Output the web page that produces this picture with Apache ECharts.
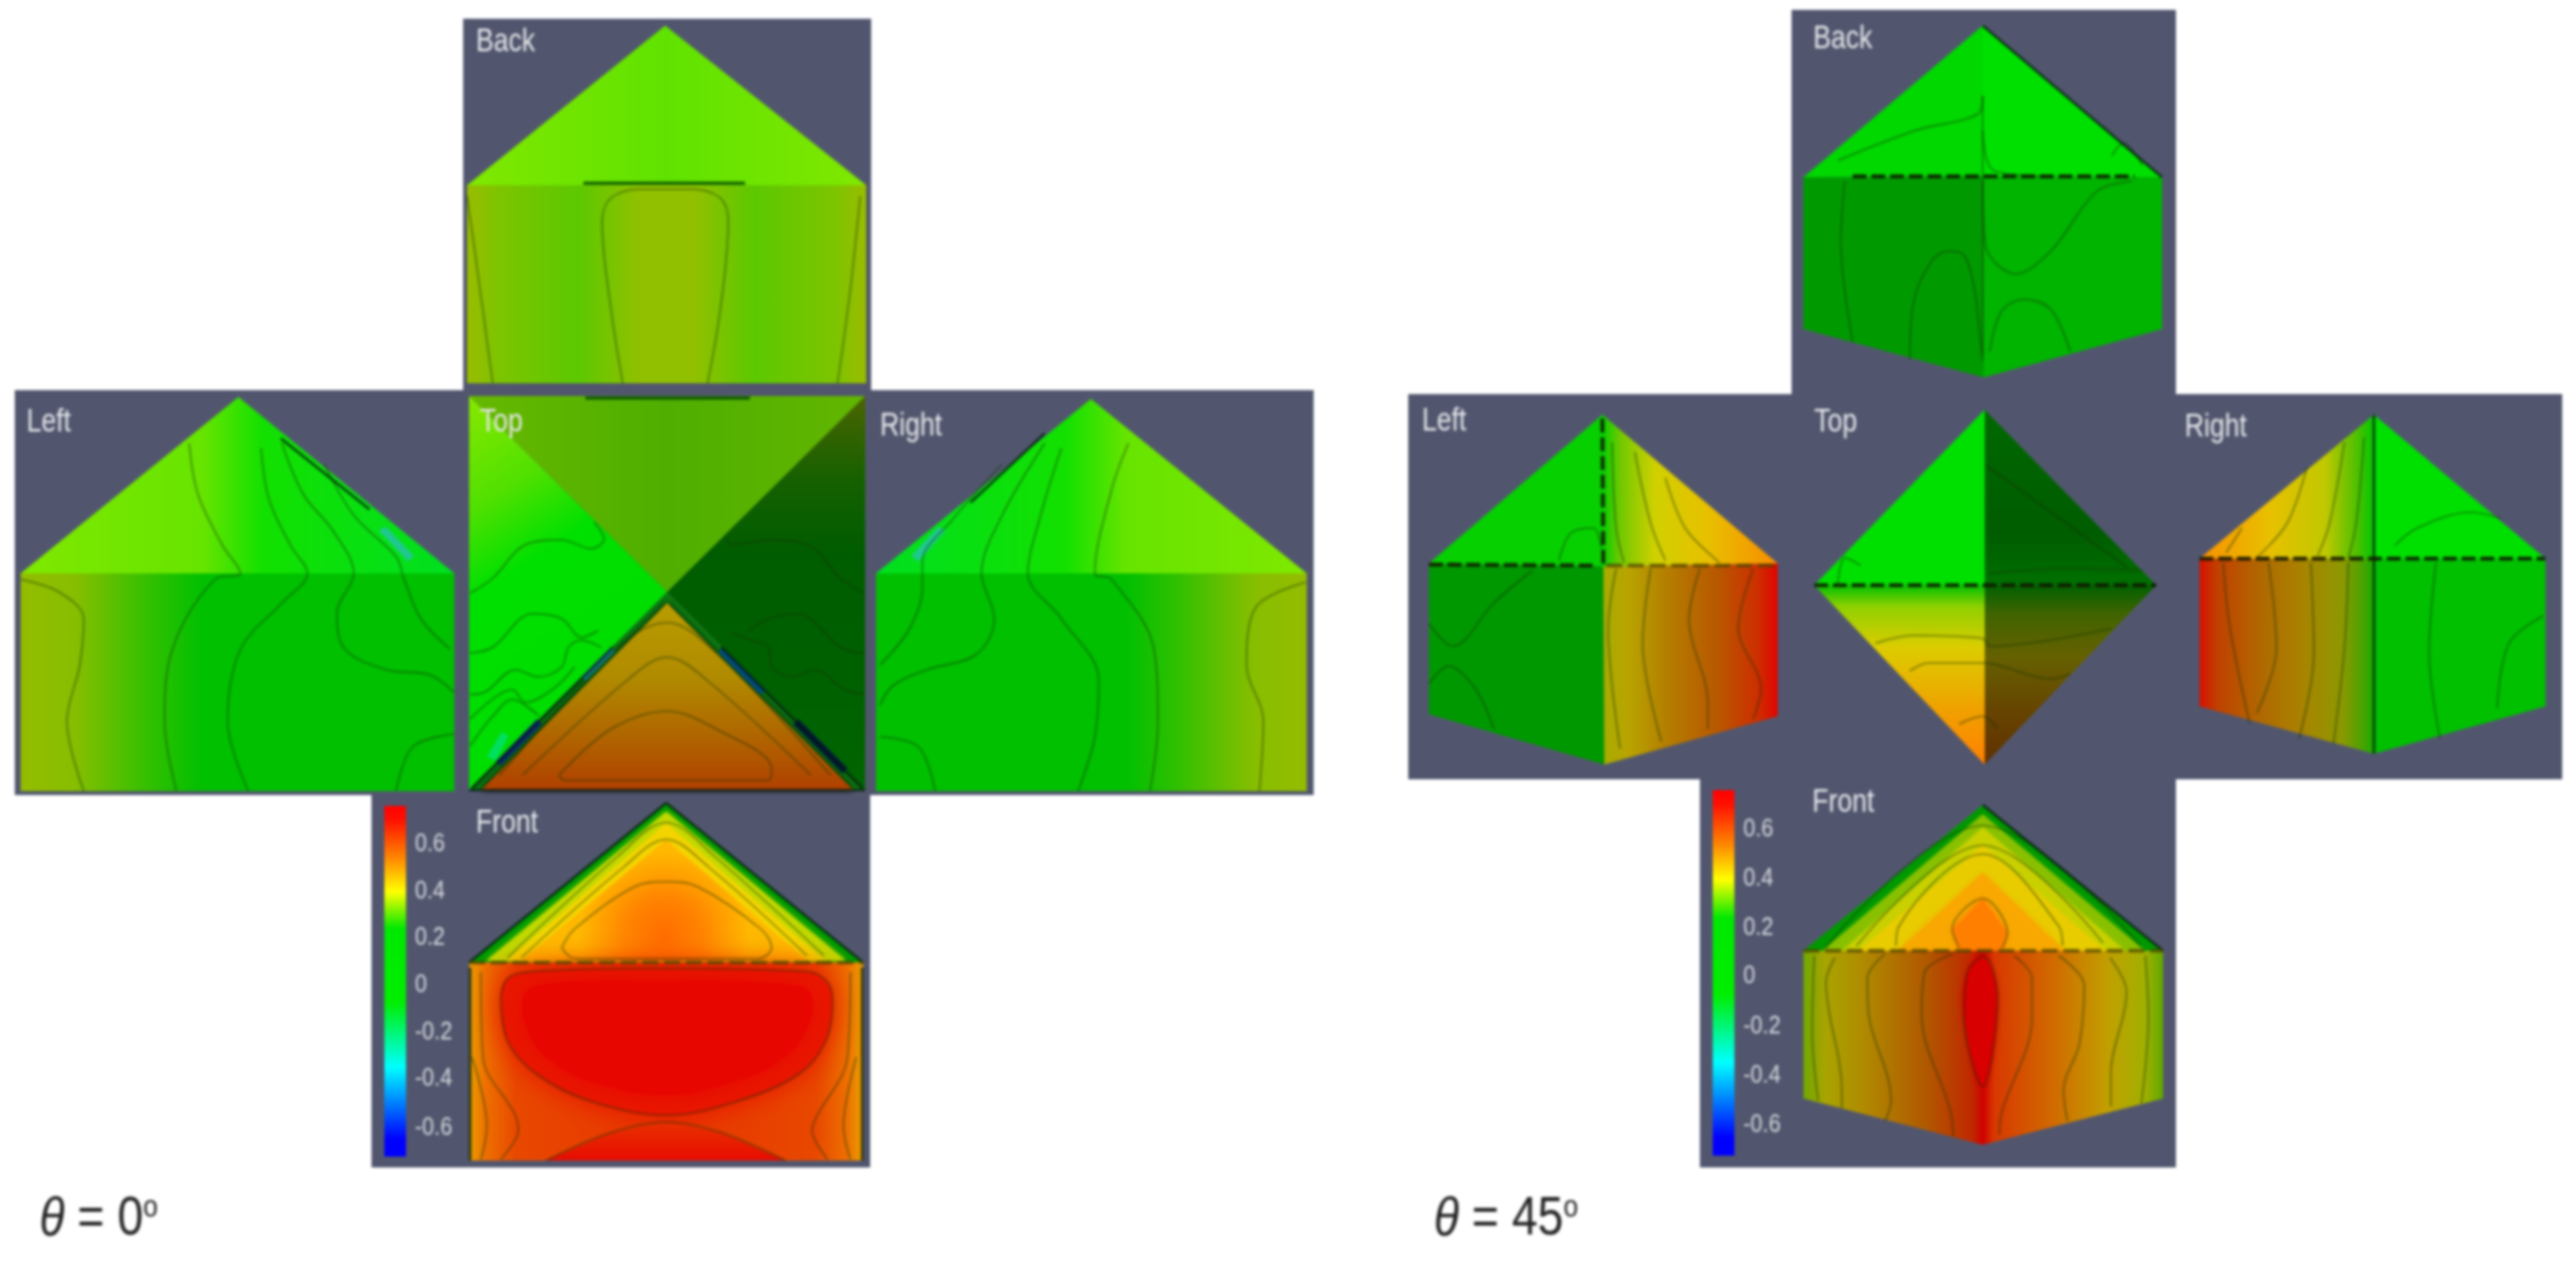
<!DOCTYPE html>
<html>
<head>
<meta charset="utf-8">
<title>Pressure on a gabled building</title>
<script src="https://cdn.jsdelivr.net/npm/echarts@6/dist/echarts.min.js"></script>
<style>
html, body { margin: 0; padding: 0; background: #fff; }
#chart { width: 2614px; height: 1283px; filter: blur(1.4px); }
</style>
</head>
<body>
<div id="chart"></div>
<script>

// grey panels behind the faces
var panels = [
    [[470, 19], [884, 19], [884, 396], [470, 396]],
    [[15, 396], [1333, 396], [1333, 807], [15, 807]],
    [[377, 805], [883, 805], [883, 1185], [377, 1185]],
    [[1818, 10], [2208, 10], [2208, 400], [1818, 400]],
    [[1429, 400], [2600, 400], [2600, 791], [1429, 791]],
    [[1725, 790], [2208, 790], [2208, 1185], [1725, 1185]]
];

// theta = 0, flat faces
var backRoof0 = [[675, 26], [879, 188], [474, 188]];
var backWall0 = [[474, 188], [879, 188], [879, 389], [474, 389]];
var leftRoof0 = [[242, 403], [461, 582], [21, 582]];
var leftWall0 = [[21, 582], [461, 582], [461, 803], [21, 803]];
var rightRoof0 = [[1107, 405], [1326, 582], [889, 582]];
var rightWall0 = [[889, 582], [1326, 582], [1326, 803], [889, 803]];
var topN0 = [[476, 402], [878, 402], [677, 601]];
var topW0 = [[476, 402], [677, 601], [476, 802]];
var topE0 = [[878, 402], [878, 802], [677, 601]];
var topS0 = [[677, 601], [878, 802], [476, 802]];
var topSInner0 = [[677, 612], [866, 802], [488, 802]];
var sliverA0 = [[620, 657], [590, 687], [594, 691], [624, 661]];
var sliverB0 = [[545, 730], [503, 773], [508, 777], [550, 735]];
var sliverC0 = [[733, 657], [777, 700], [772, 705], [729, 662]];
var sliverD0 = [[810, 730], [860, 780], [855, 785], [805, 735]];
var blob0 = [[509, 743], [516, 747], [503, 772], [494, 768]];
var blobL0 = [[384, 538], [392, 535], [420, 564], [414, 570]];
var blobR0 = [[960, 538], [952, 535], [925, 564], [932, 570]];
var frontRoofA0 = [[676, 815], [876, 977], [476, 977]];
var frontRoofB0 = [[676, 824], [858, 975], [494, 975]];
var frontRoofC0 = [[676, 836], [836, 975], [515, 975]];
var frontRoofD0 = [[676, 852], [819, 975], [529, 975]];
var frontWall0 = [[476, 977], [876, 977], [876, 1178], [476, 1178]];
var frontGlow0 = [[508, 1013], [515, 993], [540, 986], [661, 983], [819, 986], [840, 997], [845, 1017], [838, 1057], [811, 1090], [751, 1117], [676, 1132], [597, 1117], [544, 1090], [515, 1057]];
var frontCore0 = [[530, 1015], [545, 1000], [661, 995], [810, 1000], [825, 1015], [815, 1052], [790, 1078], [740, 1100], [676, 1112], [605, 1100], [560, 1078], [538, 1052]];
var frontLow0 = [[554, 1178], [619, 1150], [676, 1139], [733, 1150], [797, 1178]];

// theta = 45, folded faces
var backRoofL45 = [[2012, 26], [2012, 179], [1830, 180]];
var backRoofR45 = [[2012, 26], [2194, 180], [2012, 179]];
var backWallL45 = [[1830, 180], [2012, 179], [2013, 383], [1830, 334]];
var backWallR45 = [[2012, 179], [2194, 180], [2194, 334], [2013, 383]];
var leftRoofL45 = [[1626, 421], [1627, 575], [1450, 572]];
var leftRoofR45 = [[1626, 421], [1804, 572], [1627, 575]];
var leftWallL45 = [[1450, 572], [1627, 575], [1628, 776], [1450, 725]];
var leftWallR45 = [[1627, 575], [1804, 572], [1804, 727], [1628, 776]];
var rightRoofL45 = [[2409, 421], [2409, 567], [2232, 567]];
var rightRoofR45 = [[2409, 421], [2583, 567], [2409, 567]];
var rightWallL45 = [[2232, 567], [2409, 567], [2409, 765], [2232, 717]];
var rightWallR45 = [[2409, 567], [2583, 567], [2583, 717], [2409, 765]];
var topNW45 = [[2014, 416], [2014, 594], [1841, 594]];
var topNE45 = [[2014, 416], [2188, 594], [2014, 594]];
var topSW45 = [[1841, 594], [2014, 594], [2014, 776]];
var topSE45 = [[2014, 594], [2188, 594], [2014, 776]];
var frontRoofA45 = [[2012, 817], [2195, 965], [1830, 965]];
var frontRoofB45 = [[2012, 827], [2176, 965], [1850, 965]];
var frontRoofC45 = [[2012, 840], [2156, 965], [1870, 965]];
var frontRoofD45 = [[2012, 858], [2136, 965], [1886, 965]];
var frontRoofE45 = [[2012, 886], [2095, 965], [1926, 965]];
var frontRoofF45 = [[2012, 912], [2037, 947], [2032, 965], [1988, 965], [1981, 943]];
var frontWall45 = [[1830, 965], [2195, 965], [2195, 1115], [2012, 1162], [1830, 1115]];
var frontLens45 = [[2012, 970], [2027, 1013], [2012, 1103], [1993, 1033], [1996, 987]];

// colour bars, value labels
var colorBar0 = [[390, 818], [412, 818], [412, 1174], [390, 1174]];
var colorBar45 = [[1738, 802], [1760, 802], [1760, 1173], [1738, 1173]];
var tickLabels = ['0.6', '0.4', '0.2', '0', '-0.2', '-0.4', '-0.6'];
var tickY0 = [857, 905, 952, 1000, 1048, 1095, 1145];
var tickY45 = [842, 892, 942, 991, 1042, 1092, 1142];

// view names
var viewNames = ['Back', 'Left', 'Top', 'Right', 'Front'];
var viewAt0 = [[483, 43], [27, 429], [487, 429], [893, 433], [483, 836]];
var viewAt45 = [[1840, 40], [1443, 428], [1841, 429], [2217, 434], [1839, 815]];

// captions
var captionNames = ['0', '45'];
var captionAt = [[40, 1238], [1455, 1238]];

// contour lines, theta = 0
var contours0 = [
    [[632, 389], [620, 314], [611, 225], [620, 201], [650, 192], [701, 192], [731, 201], [739, 225], [731, 314], [718, 389]],
    [[474, 199], [487, 293], [500, 389]],
    [[873, 199], [863, 293], [850, 389]],
    [[21, 588], [60, 601], [85, 628], [81, 675], [68, 732], [85, 803]],
    [[192, 450], [201, 502], [226, 554], [244, 582], [218, 588], [175, 659], [167, 732], [179, 803]],
    [[265, 455], [273, 507], [295, 554], [312, 582], [286, 612], [244, 659], [231, 732], [252, 803]],
    [[286, 450], [308, 502], [338, 539], [359, 582], [342, 622], [350, 659], [393, 680], [436, 685], [461, 703]],
    [[329, 471], [359, 523], [402, 565], [410, 588], [427, 628], [457, 659]],
    [[402, 803], [419, 758], [461, 745]],
    [[1325, 591], [1274, 617], [1265, 675], [1282, 732], [1278, 803]],
    [[1145, 450], [1128, 497], [1111, 582], [1128, 588], [1171, 659], [1175, 732], [1167, 803]],
    [[1077, 455], [1056, 523], [1043, 582], [1077, 628], [1115, 690], [1111, 748], [1094, 803]],
    [[1060, 450], [1017, 523], [996, 582], [1009, 628], [991, 664], [940, 680], [906, 696], [893, 716]],
    [[1017, 471], [966, 528], [936, 570], [936, 596], [923, 638], [893, 675]],
    [[893, 748], [932, 758], [949, 803]],
    [[477, 602], [500, 587], [533, 553], [570, 548], [600, 557], [613, 547], [603, 530]],
    [[477, 663], [500, 657], [540, 623], [570, 628], [590, 647], [607, 640]],
    [[477, 705], [493, 702], [523, 680], [547, 687], [570, 677], [577, 657], [590, 650], [610, 657]],
    [[477, 730], [520, 700], [533, 713], [563, 698], [583, 677]],
    [[477, 757], [500, 727], [520, 710], [547, 727]],
    [[877, 602], [853, 587], [820, 553], [780, 548], [743, 553], [737, 547]],
    [[877, 663], [853, 657], [810, 623], [780, 628], [760, 640]],
    [[877, 705], [857, 700], [827, 680], [803, 687], [783, 677], [780, 657], [763, 650], [743, 643]],
    [[567, 787], [620, 740], [677, 722], [727, 740], [783, 780], [780, 792], [573, 792], [567, 787]],
    [[530, 787], [637, 690], [677, 667], [717, 690], [823, 787]],
    [[507, 787], [627, 657], [677, 632], [727, 663], [843, 787]],
    [[570, 962], [583, 943], [644, 900], [676, 895], [708, 900], [772, 943], [783, 962], [769, 973], [583, 973], [570, 962]],
    [[529, 972], [633, 880], [676, 852], [719, 880], [819, 970]],
    [[515, 972], [626, 870], [676, 835], [726, 870], [836, 970]],
    [[508, 1013], [515, 993], [540, 986], [661, 983], [819, 986], [840, 997], [845, 1017], [838, 1057], [811, 1090], [751, 1117], [676, 1132], [597, 1117], [544, 1090], [515, 1057], [508, 1013]],
    [[554, 1178], [619, 1150], [676, 1139], [733, 1150], [797, 1178]],
    [[488, 987], [490, 1073], [522, 1130], [526, 1147], [508, 1177]],
    [[863, 987], [860, 1073], [829, 1133], [824, 1147], [840, 1177]],
    [[479, 1073], [494, 1143], [488, 1177]],
    [[869, 1073], [856, 1143], [863, 1177]]
];

// contour lines, theta = 45
var contours45 = [
    [[2012, 97], [2012, 360]],
    [[1865, 163], [1942, 133], [2008, 115], [2012, 97]],
    [[2012, 133], [2023, 173], [2081, 179]],
    [[2143, 158], [2155, 145], [2174, 168]],
    [[1872, 184], [1868, 245], [1880, 347]],
    [[1938, 365], [1942, 306], [1960, 265], [1977, 255], [1992, 258], [2003, 290], [2008, 330], [2012, 367]],
    [[2012, 184], [2015, 250], [2046, 278], [2081, 255], [2128, 194], [2163, 184]],
    [[2019, 357], [2031, 316], [2054, 304], [2081, 314], [2101, 357]],
    [[1582, 569], [1594, 541], [1617, 536], [1625, 556]],
    [[1450, 633], [1474, 656], [1516, 612], [1555, 579]],
    [[1450, 694], [1470, 676], [1497, 699], [1516, 740]],
    [[1636, 449], [1640, 536], [1648, 571]],
    [[1659, 459], [1675, 531], [1690, 569]],
    [[1690, 485], [1710, 536], [1745, 571]],
    [[1640, 577], [1632, 638], [1644, 760]],
    [[1675, 577], [1667, 653], [1686, 753]],
    [[1725, 577], [1714, 628], [1733, 714], [1733, 740]],
    [[1779, 577], [1764, 638], [1787, 699], [1779, 730]],
    [[1865, 592], [1872, 566], [1888, 574]],
    [[2015, 472], [2159, 576]],
    [[2019, 582], [2097, 577], [2174, 579]],
    [[1903, 653], [1942, 645], [2012, 648], [2019, 656], [2143, 638]],
    [[1938, 681], [1957, 673], [2012, 673], [2081, 689], [2101, 684]],
    [[1988, 735], [2012, 727], [2027, 740]],
    [[2399, 444], [2391, 531], [2383, 566]],
    [[2379, 449], [2364, 531], [2352, 564]],
    [[2341, 474], [2321, 531], [2290, 566]],
    [[2275, 536], [2259, 561]],
    [[2256, 571], [2263, 638], [2283, 735]],
    [[2302, 571], [2310, 658], [2290, 724]],
    [[2345, 571], [2348, 663], [2333, 750]],
    [[2383, 571], [2379, 658], [2368, 755]],
    [[2430, 554], [2453, 536], [2507, 520], [2538, 526]],
    [[2472, 571], [2465, 663], [2476, 750]],
    [[2534, 719], [2546, 653], [2581, 625]],
    [[1852, 962], [2012, 838], [2172, 960]],
    [[1884, 960], [2012, 858], [2134, 957]],
    [[1924, 960], [1927, 940], [2012, 867], [2089, 940], [2093, 960]],
    [[1988, 962], [1981, 943], [2012, 912], [2037, 947], [2032, 962]],
    [[2012, 970], [1996, 987], [1993, 1033], [2012, 1103], [2027, 1013], [2020, 977], [2012, 970]],
    [[1982, 968], [1953, 987], [1950, 1030], [1979, 1127], [1982, 1153]],
    [[2044, 970], [2062, 993], [2062, 1033], [2031, 1130], [2029, 1152]],
    [[1913, 968], [1895, 993], [1896, 1027], [1919, 1117], [1913, 1138]],
    [[2089, 970], [2115, 1000], [2110, 1060], [2094, 1107], [2098, 1138]],
    [[1862, 972], [1853, 997], [1869, 1107], [1869, 1125]],
    [[2141, 972], [2158, 1007], [2142, 1090], [2142, 1123]],
    [[1841, 970], [1839, 1047], [1845, 1117]],
    [[2177, 970], [2180, 1033], [2173, 1120]]
];

// hard dark seams along edges and ridges
var darkSeams = [
    [[285, 445], [375, 517]],
    [[1060, 440], [985, 510]],
    [[476, 802], [878, 802]],
    [[476, 977], [676, 815], [876, 977]],
    [[477, 982], [477, 1178]],
    [[875, 982], [875, 1178]],
    [[479, 800], [622, 657]],
    [[875, 800], [732, 657]],
    [[2012, 26], [2194, 180]],
    [[2409, 421], [2409, 765]],
    [[2012, 817], [2195, 965]]
];
var greenSeams = [
    [[592, 186], [756, 186]],
    [[594, 404], [761, 404]]
];
var brokenSeams = [
    [[1880, 179], [2166, 179]],
    [[1626, 425], [1627, 575]],
    [[1450, 573], [1620, 574]],
    [[2232, 567], [2583, 567]],
    [[1841, 594], [2188, 594]]
];
var oliveSeams = [
    [[476, 977], [876, 977]],
    [[1830, 965], [2195, 965]],
    [[1630, 574], [1804, 574]]
];

function lin(x2, y2, stops) {
    return {
        type: 'linear', x: 0, y: 0, x2: x2, y2: y2,
        colorStops: stops.map(function(s) { return { offset: s[0], color: s[1] }; })
    };
}
function rad(x, y, r, stops) {
    return {
        type: 'radial', x: x, y: y, r: r,
        colorStops: stops.map(function(s) { return { offset: s[0], color: s[1] }; })
    };
}

var BAR_STOPS = [[0, '#ff0000'], [0.04, '#ff1000'], [0.15, '#ff8800'], [0.245, '#ffff00'], [0.35, '#00e800'], [0.56, '#00ee00'], [0.745, '#00ffff'], [0.95, '#0000ff'], [1, '#0000ff']];

// face, fill, optional soft edge - painted in this order
var faces = [
    [panels[0], '#51566e'], [panels[1], '#51566e'], [panels[2], '#51566e'],
    [panels[3], '#51566e'], [panels[4], '#51566e'], [panels[5], '#51566e'],

    [backRoof0, lin(1, 0, [[0, '#80e800'], [0.5, '#60e200'], [1, '#80e800']])],
    [backWall0, lin(1, 0, [[0, '#9abc00'], [0.08, '#7cc400'], [0.28, '#5cc800'], [0.43, '#90c000'], [0.57, '#90c000'], [0.72, '#5cc800'], [0.92, '#7cc400'], [1, '#9abc00']])],
    [leftRoof0, lin(1, 0, [[0, '#80e800'], [0.42, '#66e400'], [0.56, '#12e000'], [1, '#00e020']])],
    [leftWall0, lin(1, 0, [[0, '#94bc00'], [0.12, '#88be00'], [0.3, '#30c000'], [0.42, '#00c000'], [1, '#00c000']])],
    [rightRoof0, lin(1, 0, [[0, '#00e020'], [0.44, '#12e000'], [0.58, '#66e400'], [1, '#80e800']])],
    [rightWall0, lin(1, 0, [[0, '#00c000'], [0.58, '#00c000'], [0.7, '#30c000'], [0.88, '#88be00'], [1, '#94bc00']])],
    [topN0, lin(1, 0, [[0, '#66b800'], [0.5, '#4fae00'], [1, '#62b600']])],
    [topW0, lin(0.9, 0.7, [[0, '#88e800'], [0.3, '#50e000'], [0.52, '#00e000'], [1, '#00dc00']])],
    [topE0, lin(0, 1, [[0, '#4a6400'], [0.22, '#146000'], [0.4, '#005c00'], [1, '#006400']])],
    [topS0, '#0c7a10'],
    [topSInner0, lin(0, 1, [[0, '#b89c00'], [0.4, '#b08a00'], [0.72, '#b06400'], [1, '#b04000']]), 6],
    [sliverA0, '#1890b0'], [sliverB0, '#0a2878'], [sliverC0, '#004c80'], [sliverD0, '#001240'],
    [blob0, '#00e060'], [blobL0, '#20c890'], [blobR0, '#20c890'],

    [frontRoofA0, '#009a00'], [frontRoofB0, '#c0d800', 4], [frontRoofC0, '#f4d400', 4],
    [frontRoofD0, rad(0.5, 0.8, 0.7, [[0, '#ff6c00'], [0.45, '#ff8400'], [1, '#ffb800']]), 6],
    [frontWall0, lin(1, 0, [[0, '#e8a000'], [0.04, '#ee7000'], [0.12, '#e84800'], [0.5, '#e83400'], [0.88, '#e84800'], [0.96, '#ee7000'], [1, '#e8a000']])],
    [frontGlow0, '#e81800', 30, true],
    [frontCore0, '#e80600', 36, true],
    [frontLow0, lin(0, 1, [[0, '#e83000'], [1, '#e80c00']])],

    [backRoofL45, '#00d800'], [backRoofR45, '#00e000'],
    [backWallL45, '#009a00'], [backWallR45, '#00b400'],
    [leftRoofL45, '#06d000'],
    [leftRoofR45, lin(1, 0, [[0, '#00d000'], [0.1, '#70c800'], [0.3, '#d0d000'], [0.6, '#e8c000'], [1, '#f88c00']])],
    [leftWallL45, '#009800'],
    [leftWallR45, lin(1, 0, [[0, '#a8ac00'], [0.14, '#b8a400'], [0.35, '#b48000'], [0.65, '#b85800'], [0.88, '#cc3000'], [1, '#e00400']])],
    [rightRoofL45, lin(1, 0, [[0, '#f89000'], [0.4, '#e8c000'], [0.72, '#c0c800'], [0.9, '#50c000'], [1, '#00c800']])],
    [rightRoofR45, '#00e000'],
    [rightWallL45, lin(1, 0, [[0, '#d81000'], [0.1, '#c04000'], [0.35, '#b06800'], [0.6, '#a88400'], [0.82, '#8c9800'], [0.95, '#40a400'], [1, '#10b000']])],
    [rightWallR45, '#00c000'],
    [topNW45, '#00e000'], [topNE45, lin(0, 1, [[0, '#006800'], [0.7, '#005c00'], [1, '#007000']])],
    [topSW45, lin(0, 1, [[0, '#00c000'], [0.12, '#90d000'], [0.35, '#dccc00'], [0.7, '#f0a000'], [1, '#ff8000']])],
    [topSE45, lin(0, 1, [[0, '#006000'], [0.16, '#406400'], [0.4, '#666000'], [0.7, '#664400'], [1, '#603000']])],

    [frontRoofA45, '#009800'], [frontRoofB45, '#88c000', 3], [frontRoofC45, '#c8d000', 3],
    [frontRoofD45, '#e8cc00', 3], [frontRoofE45, '#f8a800', 6], [frontRoofF45, '#ff8000', 6],
    [frontWall45, lin(1, 0, [[0, '#70a800'], [0.06, '#a8a400'], [0.16, '#b08c00'], [0.34, '#b05800'], [0.47, '#c02800'], [0.5, '#d00000'], [0.53, '#d83800'], [0.7, '#d06c00'], [0.85, '#c0a000'], [0.95, '#a0b000'], [1, '#60a800']])],
    [frontLens45, '#d80000', 6, true],

    [colorBar0, lin(0, 1, BAR_STOPS)],
    [colorBar45, lin(0, 1, BAR_STOPS)]
];

// text items: [x, y, string, kind]
var texts = [];
viewNames.forEach(function(n, i) {
    texts.push([viewAt0[i][0], viewAt0[i][1], n, 'view']);
    texts.push([viewAt45[i][0], viewAt45[i][1], n, 'view']);
});
tickLabels.forEach(function(t, i) {
    texts.push([421, tickY0[i], t, 'tick']);
    texts.push([1769, tickY45[i], t, 'tick']);
});
captionNames.forEach(function(c, i) {
    texts.push([captionAt[i][0], captionAt[i][1], '{t|θ} = ' + c + '{s|o}', 'caption']);
});

var series = [
    {
        type: 'custom', z: 2, silent: true, clip: false,
        data: faces.map(function(f, i) { return [i]; }),
        renderItem: function(params, api) {
            var f = faces[api.value(0)];
            var style = { fill: f[1] };
            if (f[2]) {
                style.shadowBlur = f[2];
                style.shadowColor = f[1];
            }
            return {
                type: 'polygon',
                shape: { points: f[0].map(function(p) { return api.coord(p); }), smooth: f[3] ? 0.4 : 0 },
                style: style
            };
        }
    },
    {
        type: 'custom', z: 9, silent: true, clip: false,
        data: texts.map(function(t, i) { return [i]; }),
        renderItem: function(params, api) {
            var t = texts[api.value(0)], pos = api.coord([t[0], t[1]]);
            var el = { type: 'text', x: pos[0], y: pos[1], scaleX: 1, scaleY: 1.25 };
            var style = {
                text: t[2], x: 0, y: 0, verticalAlign: 'middle', align: 'left',
                fontFamily: '"Liberation Sans", Arial', fill: '#e6e7ea', fontSize: 27
            };
            if (t[3] === 'tick') {
                style.fontSize = 22;
                style.fill = '#d8d9de';
                el.scaleY = 1.15;
            }
            if (t[3] === 'caption') {
                el.scaleX = 0.84;
                el.scaleY = 1;
                style.fontSize = 56;
                style.fill = '#222';
                style.rich = {
                    t: { fontSize: 56, fontStyle: 'italic', fontFamily: '"Liberation Sans"', fill: '#222' },
                    s: { fontSize: 32, fill: '#222', verticalAlign: 'top', padding: [0, 0, 22, 0], fontFamily: '"Liberation Sans"' }
                };
            }
            el.style = style;
            return el;
        }
    }
];

function seamSeries(list, color, width, type, smooth, z) {
    list.forEach(function(c) {
        series.push({
            type: 'line', data: c, symbol: 'none', silent: true, z: z, smooth: smooth,
            lineStyle: { color: color, width: width, type: type }
        });
    });
}
seamSeries(contours0.concat(contours45), 'rgba(20,50,0,0.5)', 1.6, 'solid', 0.35, 5);
seamSeries(darkSeams, 'rgba(5,30,15,0.8)', 2.6, 'solid', 0, 6);
seamSeries(greenSeams, 'rgba(0,70,0,0.9)', 3, 'solid', 0, 6);
seamSeries(brokenSeams, 'rgba(15,20,0,0.85)', 4, [14, 5], 0, 6);
seamSeries(oliveSeams, 'rgba(80,70,0,0.8)', 3.5, [16, 6], 0, 6);

var chart = echarts.init(document.getElementById('chart'));
chart.setOption({
    animation: false,
    backgroundColor: '#ffffff',
    grid: { left: 0, right: 0, top: 0, bottom: 0 },
    xAxis: { type: 'value', min: 0, max: 2614, show: false },
    yAxis: { type: 'value', min: 0, max: 1283, inverse: true, show: false },
    series: series
});
</script>
</body>
</html>
